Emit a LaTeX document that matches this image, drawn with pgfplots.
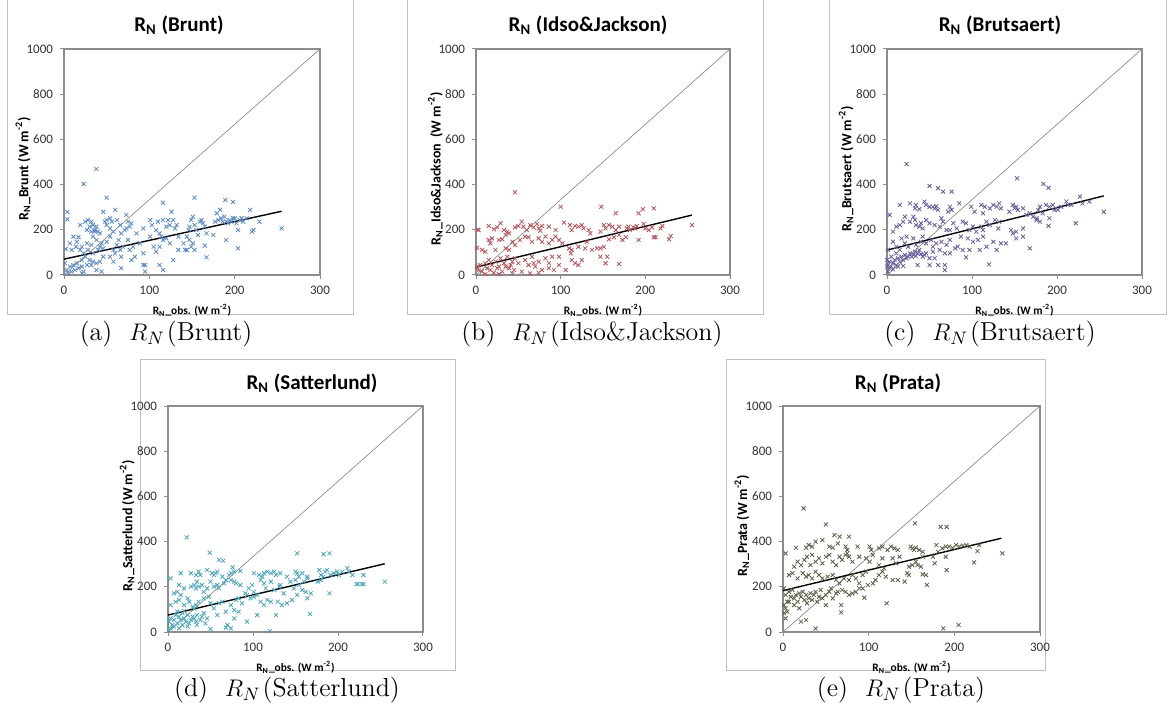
\documentclass[border=0pt]{standalone}
\usepackage{pgfplots}
\pgfplotsset{compat=1.18}
\usepackage{fontspec}
\newfontfamily\carlito{Carlito}

\definecolor{cA}{HTML}{5A8AC6}
\definecolor{cB}{HTML}{B5545A}
\definecolor{cC}{HTML}{6A5C9C}
\definecolor{cD}{HTML}{4AA5BE}
\definecolor{cE}{HTML}{5E5E48}
\definecolor{framegray}{HTML}{BFBFBF}

\pgfplotsset{
  rn/.style={
    scale only axis, width=127.5pt, height=113pt, anchor=south west,
    xmin=0, xmax=300, ymin=0, ymax=1000,
    xtick={0,100,200,300}, ytick={0,200,400,600,800,1000},
    axis line style={draw=black!45, line width=0.6pt},
    tick style={draw=black!45, line width=0.5pt},
    tick align=outside, tick pos=left, major tick length=2pt,
    ticklabel style={font=\carlito\fontsize{6.5}{7}\selectfont, text=black!80},
    /pgf/number format/assume math mode=true,
    /pgf/number format/1000 sep={},
    xlabel style={font=\carlito\bfseries\fontsize{5.7}{7}\selectfont,
      at={(axis description cs:0.5,-0.155)}, anchor=center},
    ylabel style={font=\carlito\bfseries\fontsize{7}{8}\selectfont,
      at={(axis description cs:-0.16,0.47)}, anchor=center},
    xlabel={R\textsubscript{N}\_obs. (W m\textsuperscript{-2})},
    clip=false,
  },
  sc/.style={only marks, mark=x, mark size=1.4pt, mark options={line width=0.4pt}},
  diag/.style={black!50, line width=0.3pt},
  fit/.style={black, line width=0.7pt},
}
\newcommand{\ttl}[1]{{\carlito\bfseries\fontsize{10.5}{12}\selectfont R\textsubscript{N} (#1)}}
\newcommand{\subcap}[2]{{\fontsize{13}{15}\selectfont (#1)\ \ $R_N$\kern1pt(#2)}}

\begin{document}
\begin{tikzpicture}
\path[use as bounding box] (0,0) rectangle (585.5pt,356pt);

% panel frames
\draw[framegray, line width=0.5pt] (3.5pt,356pt) -- (3.5pt,198.5pt) -- (176.5pt,198.5pt) -- (176.5pt,356pt);
\draw[framegray, line width=0.5pt] (203.5pt,356pt) -- (203.5pt,198.5pt) -- (381.5pt,198.5pt) -- (381.5pt,356pt);
\draw[framegray, line width=0.5pt] (414.5pt,356pt) -- (414.5pt,198.5pt) -- (583pt,198.5pt) -- (583pt,356pt);
\draw[framegray, line width=0.5pt] (70pt,21pt) rectangle (227.5pt,176pt);
\draw[framegray, line width=0.5pt] (363pt,21pt) rectangle (522.5pt,176pt);

% (a) Brunt
\begin{axis}[rn, at={(32pt,218.5pt)}, width=128pt,
  ylabel={R\textsubscript{N}\_Brunt (W m\textsuperscript{-2})}]
\addplot[sc, cA] coordinates {
(4,279)(4,246)(2,115)(7,140)(11,170)(15,147)(17,167)(14,125)(9,111)(19,111)(21,125)(23,96)(27,140)(28,111)(32,133)(34,170)(36,192)(38,155)(40,111)(42,125)(44,140)(34,96)(30,66)(25,81)(21,66)(15,52)(11,44)(7,37)(17,30)(21,37)(13,22)(23,15)(27,44)(32,44)(34,59)(38,52)(42,59)(46,81)(3,22)(5,7)(9,15)(1,52)(21,7)(38,22)(44,15)
(19,221)(25,236)(28,243)(32,236)(34,221)(30,214)(27,199)(32,192)(36,199)(40,192)(42,184)(38,214)(46,280)(48,236)(50,243)(54,251)(56,236)(50,221)(54,206)(58,192)(60,288)(62,243)(66,221)(67,184)(64,155)(62,133)(54,170)(50,147)(46,118)(58,111)(60,96)(66,111)(69,125)(73,266)(75,236)(77,214)(73,206)(71,199)(79,229)(67,81)(54,81)(58,59)(67,30)(75,155)(77,111)(85,184)(79,66)(89,140)(93,96)(95,44)(81,125)(83,81)
(93,206)(101,243)(103,221)(108,199)(110,236)(112,184)(114,170)(116,243)(120,214)(122,243)(124,221)(126,280)(128,243)(130,206)(132,221)(134,170)(120,162)(124,140)(112,125)(101,170)(105,125)(108,103)(116,155)(128,66)(134,111)(140,140)(142,111)(144,170)(146,199)(147,214)(149,243)(151,258)(153,221)(155,199)(157,177)(159,236)(161,243)(163,229)(165,214)(167,184)(147,155)(151,140)(144,111)(153,111)(149,125)(165,130)(167,78)
(175,177)(177,236)(179,273)(181,243)(183,288)(184,251)(186,236)(188,258)(190,236)(192,229)(194,243)(196,236)(198,251)(200,251)(202,229)(204,199)(206,243)(208,251)(210,236)(214,251)(218,288)(220,192)(222,199)(229,236)(190,155)(204,118)(255,206)(112,44)(116,22)(93,44)(95,15)
(38,469)(23,403)(50,342)(153,342)(116,320)(189,332)(198,323)
};
\addplot[diag] coordinates {(0,0) (300,1000)};
\addplot[fit] coordinates {(0,70) (255,282)};
\end{axis}

% (b) Idso&Jackson
\begin{axis}[rn, at={(238pt,218.5pt)}, width=127pt,
  ylabel={R\textsubscript{N}\_Idso\&Jackson\ \ (W m\textsuperscript{-2})}]
\addplot[sc, cB] coordinates {
(3,199)(15,217)(21,202)(25,211)(29,229)(33,199)(37,192)(35,177)(39,184)(46,211)(50,217)(54,236)(56,214)(60,199)(64,221)(68,211)(72,226)(74,206)(76,196)(78,217)(86,214)(94,199)(104,232)(111,221)(113,199)(117,217)(121,214)(125,221)(127,206)(133,199)(135,184)(147,192)(151,221)(153,206)(157,221)(161,214)(165,199)(169,214)(178,206)(180,214)(182,199)(186,211)(188,206)(190,217)(198,226)(200,206)(204,199)(208,211)(210,167)(212,167)(218,206)(220,217)(230,173)(228,158)(255,221)(192,155)
(7,111)(11,103)(15,155)(17,140)(19,162)(23,111)(27,155)(31,158)(35,118)(39,111)(43,147)(46,133)(52,155)(58,170)(62,167)(66,147)(74,162)(78,147)(82,170)(86,140)(90,155)(94,170)(98,155)(102,140)(110,118)(113,111)(121,125)(129,118)(131,147)(137,111)(143,118)(147,118)(151,125)(157,158)(163,167)(169,177)(173,155)(177,167)(155,81)(147,81)(112,96)
(1,37)(3,22)(5,44)(7,15)(11,52)(13,30)(15,66)(17,22)(19,44)(21,10)(23,59)(25,30)(27,37)(29,74)(31,15)(33,52)(35,37)(37,81)(39,30)(41,44)(43,59)(45,22)(46,74)(50,52)(54,15)(58,66)(62,44)(66,81)(68,52)(70,37)(74,59)(78,22)(82,74)(86,52)(90,81)(92,22)(98,44)(106,22)(113,66)(117,52)(121,44)(98,81)(86,30)(74,10)(64,7)(43,7)(27,4)(11,4)(125,66)(153,52)(169,49)
(2,200)(1,120)(46,366)(100,302)(148,302)(165,273)(192,273)(197,291)(210,295)
};
\addplot[diag] coordinates {(0,0) (300,1000)};
\addplot[fit] coordinates {(0,35) (255,265)};
\end{axis}

% (c) Brutsaert
\begin{axis}[rn, at={(443.5pt,218.5pt)},
  ylabel={R\textsubscript{N}\_Brutsaert (W m\textsuperscript{-2})}]
\addplot[sc, cC] coordinates {
(3,266)(15,310)(27,317)(33,295)(34,310)(38,291)(44,325)(46,310)(50,302)(54,302)(56,295)(58,305)(60,288)(72,280)(74,302)(76,288)(85,317)(99,302)(103,280)(111,310)(113,273)(115,302)(121,295)(125,310)(129,302)(132,317)(134,295)(144,280)(148,310)(150,295)(152,302)(154,288)(160,295)(168,273)(176,251)(178,288)(180,302)(183,273)(187,310)(191,302)(195,310)(197,288)(199,295)(201,288)(205,302)(211,325)(213,310)(217,310)(227,347)(230,317)(238,325)
(7,192)(11,214)(15,221)(19,236)(21,258)(23,170)(27,236)(31,258)(33,243)(34,221)(38,214)(40,229)(42,206)(46,243)(50,229)(56,221)(62,214)(64,251)(66,236)(70,199)(74,199)(78,229)(82,206)(89,236)(93,229)(97,199)(101,214)(105,192)(111,214)(113,199)(117,236)(121,221)(127,243)(131,206)(132,236)(146,199)(148,184)(152,192)(160,206)(164,266)(172,258)(176,243)(180,236)(191,251)
(1,111)(7,147)(11,125)(17,162)(21,140)(25,125)(31,162)(34,133)(40,147)(42,170)(46,140)(52,155)(54,125)(58,140)(64,147)(70,133)(74,155)(80,118)(83,125)(89,111)(95,162)(101,147)(107,155)(113,170)(117,125)(125,147)(134,140)(140,140)(129,111)(97,111)(109,111)(152,162)(160,170)(87,170)
(1,44)(3,59)(5,37)(7,52)(9,66)(11,44)(13,74)(15,59)(17,81)(19,66)(21,89)(23,74)(25,81)(27,96)(29,81)(31,89)(33,103)(34,84)(36,96)(38,111)(40,93)(42,81)(44,89)(46,96)(50,74)(54,103)(56,74)(62,111)(68,96)(74,96)(3,30)(7,25)(1,15)(13,37)(19,40)(5,81)(11,96)(15,111)(0,66)(0,37)(36,44)(50,44)(93,78)(60,44)
(23,491)(50,394)(60,384)(66,369)(76,369)(153,428)(184,403)(190,386)(255,280)(222,229)(190,217)(168,118)(120,47)(68,44)(68,22)
};
\addplot[diag] coordinates {(0,0) (300,1000)};
\addplot[fit] coordinates {(0,110) (255,350)};
\end{axis}

% (d) Satterlund
\begin{axis}[rn, at={(84pt,40pt)},
  ylabel={R\textsubscript{N}\_Satterlund (W m\textsuperscript{-2})}]
\addplot[sc, cD] coordinates {
(3,237)(15,260)(27,260)(33,252)(36,267)(38,252)(46,274)(52,260)(54,252)(56,260)(58,267)(64,245)(72,252)(74,260)(76,286)(78,267)(85,270)(101,260)(107,252)(111,245)(113,260)(117,267)(121,260)(125,267)(127,252)(132,260)(140,245)(150,267)(152,260)(154,245)(158,260)(164,245)(178,274)(180,252)(185,267)(187,274)(191,252)(195,260)(199,267)(201,252)(205,267)(211,282)(213,267)(217,252)(230,252)(230,212)(223,212)
(7,171)(11,178)(13,208)(15,164)(19,193)(23,149)(27,201)(31,208)(33,193)(34,223)(36,201)(40,208)(42,178)(46,193)(50,223)(54,201)(58,208)(60,193)(66,215)(68,230)(74,230)(78,223)(80,215)(85,208)(91,171)(95,193)(99,208)(101,178)(105,164)(109,230)(113,215)(115,193)(121,223)(125,186)(131,201)(132,208)(136,171)(144,223)(148,193)(150,230)(154,208)(158,186)(160,223)(162,178)(164,237)(168,171)(176,223)(180,230)(183,245)
(3,119)(9,134)(13,142)(19,119)(25,134)(29,112)(33,119)(36,134)(42,149)(48,156)(50,127)(54,105)(60,127)(64,134)(68,90)(74,119)(78,97)(80,142)(83,149)(87,127)(93,164)(97,149)(101,156)(109,134)(113,119)(117,142)(121,134)(129,134)(134,119)(140,127)(146,142)(152,164)(164,149)(105,75)(127,75)(83,90)(58,75)(78,60)
(1,46)(3,60)(5,31)(7,53)(9,75)(11,38)(13,68)(15,53)(17,83)(19,60)(21,46)(23,75)(25,38)(27,53)(29,68)(31,60)(33,46)(34,75)(38,53)(40,68)(42,83)(46,60)(3,16)(7,24)(1,9)(13,16)(17,31)(23,24)(34,31)(50,13)(70,31)(44,38)(11,90)(19,93)(31,102)
(22,419)(49,351)(60,319)(65,316)(152,348)(183,344)(190,348)(255,223)(222,212)(228,212)(190,171)(167,80)(120,4)(68,19)(74,16)(93,46)
};
\addplot[diag] coordinates {(0,0) (300,1000)};
\addplot[fit] coordinates {(0,75) (255,302)};
\end{axis}

% (e) Prata
\begin{axis}[rn, at={(391.5pt,40pt)}, width=128.5pt,
  ylabel={R\textsubscript{N}\_Prata (W m\textsuperscript{-2})}]
\addplot[sc, cE] coordinates {
(3,348)(15,373)(27,373)(30,385)(34,378)(38,400)(46,407)(54,378)(58,373)(60,429)(64,392)(66,422)(73,378)(75,363)(77,422)(87,378)(101,378)(103,363)(112,370)(116,378)(122,363)(126,378)(130,370)(134,363)(149,378)(151,370)(153,363)(155,373)(159,363)(163,355)(179,385)(181,355)(186,370)(190,378)(194,378)(198,373)(202,385)(206,378)(210,382)(214,385)(218,378)(229,385)(227,358)(190,333)
(13,289)(17,311)(21,296)(25,319)(28,333)(32,296)(34,341)(38,311)(42,326)(46,304)(50,333)(54,341)(58,311)(62,296)(66,333)(69,319)(73,341)(75,348)(77,333)(81,311)(89,333)(97,326)(101,311)(105,341)(112,296)(116,326)(118,282)(128,326)(132,304)(136,333)(147,289)(151,296)(155,311)(157,296)(161,289)(163,333)(175,333)(177,304)
(7,252)(11,260)(17,237)(23,260)(27,245)(30,252)(34,237)(38,267)(42,252)(46,237)(52,245)(58,252)(62,230)(66,215)(71,237)(77,230)(81,252)(85,237)(89,215)(93,252)(97,267)(105,215)(108,230)(112,252)(116,267)(120,245)(128,230)(134,230)(142,223)(145,260)(147,252)(163,255)(167,252)
(1,193)(3,164)(5,134)(7,178)(9,156)(11,186)(13,149)(15,164)(17,134)(19,171)(21,156)(23,178)(25,142)(27,164)(28,127)(30,149)(32,171)(34,142)(36,164)(38,178)(40,134)(42,156)(44,186)(46,149)(50,164)(54,178)(56,193)(58,149)(62,171)(64,178)(69,186)(73,178)(77,164)(81,171)(85,178)(89,193)(93,193)(99,208)(50,119)(1,119)(3,105)(5,90)(1,83)(7,134)(13,119)(19,105)
(24,547)(50,476)(154,481)(184,465)(191,465)(256,348)(223,308)(191,274)(168,208)(121,127)(68,119)(68,87)(95,152)(38,16)(187,16)(205,31)(21,46)(27,53)(3,60)
};
\addplot[diag] coordinates {(0,0) (300,1000)};
\addplot[fit] coordinates {(0,183) (255,415)};
\end{axis}

% titles
\node at (89.5pt,343.5pt) {\ttl{Brunt}};
\node at (294pt,343.5pt) {\ttl{Idso\&Jackson}};
\node at (500pt,343.5pt) {\ttl{Brutsaert}};
\node at (156pt,164.5pt) {\ttl{Satterlund}};
\node at (449pt,164.5pt) {\ttl{Prata}};

% captions
\node at (83pt,189pt) {\subcap{a}{Brunt}};
\node at (296pt,189pt) {\subcap{b}{Idso\&Jackson}};
\node at (495pt,189pt) {\subcap{c}{Brutsaert}};
\node at (143.5pt,11pt) {\subcap{d}{Satterlund}};
\node at (450.5pt,11pt) {\subcap{e}{Prata}};
\end{tikzpicture}
\end{document}
